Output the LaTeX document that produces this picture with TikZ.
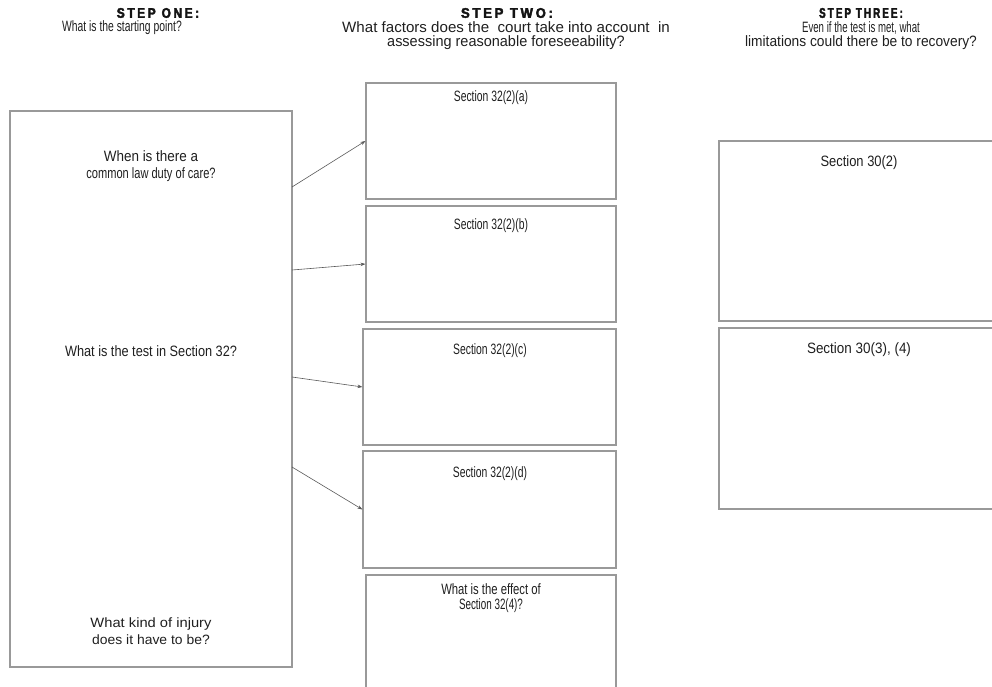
\documentclass[tikz,border=0pt]{standalone}
\usepackage{graphicx}
\usepackage{fontspec}
\setmainfont[FakeStretch=0.69]{Liberation Sans}
\newfontfamily\arialfont{Liberation Sans}
\newfontfamily\headfont[FakeStretch=0.7,LetterSpace=15,FakeBold=2.5]{Liberation Sans Bold}
\newcommand\hs[2]{\scalebox{#1}[1]{#2}}
\usetikzlibrary{arrows.meta}
\begin{document}
\begin{tikzpicture}[x=1pt,y=-1pt,
  box/.style={draw=black!40,line width=1.1pt,rectangle,inner sep=0pt},
  txt/.style={font=\fontsize{15}{16}\selectfont,text=black!88,align=center,inner sep=0pt},
  htxt/.style={font=\fontsize{15}{14}\selectfont,text=black!88,align=center,inner sep=0pt},
  atxt/.style={font=\arialfont\fontsize{13.5}{17}\selectfont,text=black!88,align=center,inner sep=0pt},
  head/.style={font=\headfont\fontsize{14}{14}\selectfont,text=black!92,inner sep=0pt},
  conn/.style={draw=black!65,line width=0.6pt,-{Stealth[length=5pt,width=3.5pt]}}]
\useasboundingbox (0,0) rectangle (992,687);
\clip (0,0) rectangle (992,687);
% headers
\node[head] (h1) at (158,13) {\hs{1.22}{STEP ONE:}};
\node[htxt] (h1t) at (122,28) {\hs{1.0}{What is the starting point?}};
\node[head] (h2) at (507,13) {\hs{1.33}{STEP\ TWO:}};
\node[htxt] (h2t) at (506,35.5) {\hs{1.46}{What factors does the \ court take into account \ in}\\\hs{1.4}{assessing reasonable foreseeability?}};
\node[head] (h3) at (861,13) {\hs{1.0}{STEP THREE:}};
\node[htxt] (h3t) at (861,35.5) {\hs{0.93}{Even if the test is met, what}\\\hs{1.33}{limitations could there be to recovery?}};
% left box
\node[box,minimum width=282pt,minimum height=556pt] (L) at (151,389) {};
\node[txt,font=\fontsize{15}{17}\selectfont] (L1) at (151,166.5) {\hs{1.3}{When is there a}\\\hs{1.07}{common law duty of care?}};
\node[txt] (L2) at (151,351) {\hs{1.23}{What is the test in Section 32?}};
\node[atxt] (L3) at (151,631) {\hs{1.09}{What kind of injury}\\\hs{1.03}{does it have to be?}};
% step two boxes
\node[box,minimum width=250pt,minimum height=116pt] (A) at (491,141) {};
\node[box,minimum width=250pt,minimum height=116pt] (B) at (491,264) {};
\node[box,minimum width=253pt,minimum height=116pt] (C) at (489.5,387) {};
\node[box,minimum width=253pt,minimum height=117pt] (D) at (489.5,509.5) {};
\node[box,minimum width=250pt,minimum height=130pt] (E) at (491,640) {};
\node[txt] (At) at (491,98) {Section 32(2)(a)};
\node[txt] (Bt) at (491,226) {Section 32(2)(b)};
\node[txt] (Ct) at (490,351) {Section 32(2)(c)};
\node[txt] (Dt) at (490,474) {Section 32(2)(d)};
\node[txt,font=\fontsize{15}{15}\selectfont] (Et) at (491,598.5) {\hs{1.09}{What is the effect of}\\\hs{0.95}{Section 32(4)?}};
% step three boxes
\node[box,minimum width=290pt,minimum height=180pt] (R1) at (864,231) {};
\node[box,minimum width=290pt,minimum height=181pt] (R2) at (864,418.5) {};
\node[txt] (R1t) at (859,163) {\hs{1.25}{Section 30(2)}};
\node[txt] (R2t) at (859,350) {\hs{1.3}{Section 30(3), (4)}};
% connectors
\coordinate (s1) at (292,187);
\coordinate (s2) at (292,270);
\coordinate (s3) at (292,377);
\coordinate (s4) at (292,467);
\draw[conn] (s1) -- (A.west);
\draw[conn] (s2) -- (B.west);
\draw[conn] (s3) -- (C.west);
\draw[conn] (s4) -- (D.west);
\end{tikzpicture}
\end{document}
